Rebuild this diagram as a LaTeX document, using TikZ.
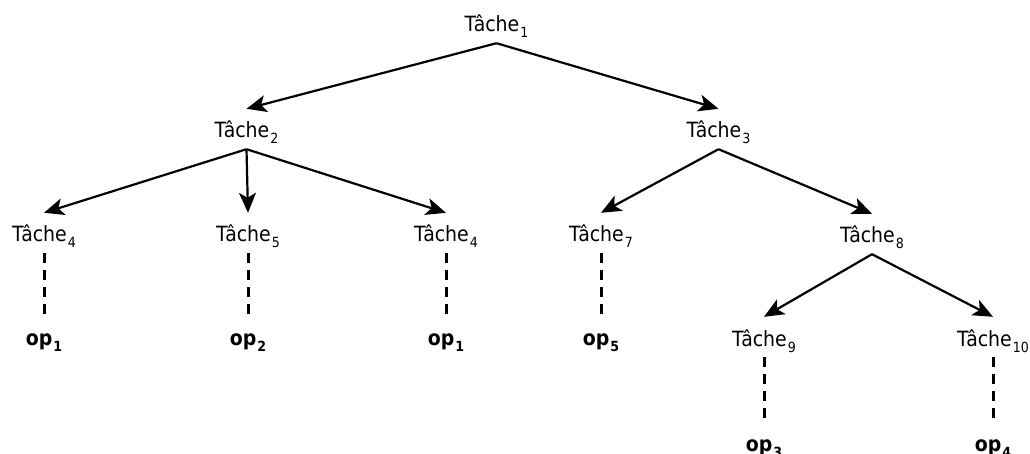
\documentclass[tikz,border=0pt]{standalone}
\usepackage{fontspec}
\setmainfont{DejaVu Sans Condensed}
\usetikzlibrary{arrows.meta}
\newcommand\sbs[1]{\kern1pt\raisebox{-6pt}{\fontsize{14}{14}\selectfont #1}}
\newcommand\tache[1]{Tâche\sbs{#1}}
\newcommand\opn[1]{op\sbs{#1}}
\begin{document}
\begin{tikzpicture}[x=1pt,y=-1pt,
 lbl/.style={anchor=base, inner sep=0pt, font=\fontsize{21}{25}\selectfont, text height=29pt, text depth=11pt},
 oplbl/.style={anchor=base, inner sep=0pt, font=\fontsize{21}{25}\selectfont\bfseries, text height=31pt, text depth=2pt},
 arr/.style={-{Stealth[length=20pt,width=17pt,inset=5pt]}, line width=2.2pt},
 dsh/.style={line width=3pt, dash pattern=on 10pt off 7pt}]
\useasboundingbox (0,0) rectangle (1030,454);
% tasks
\node[lbl] (t1) at (496.5,32) {\tache{1}};
\node[lbl] (t2) at (246.5,138) {\tache{2}};
\node[lbl] (t3) at (718.5,138) {\tache{3}};
\node[lbl] (t4) at (44,242) {\tache{4}};
\node[lbl] (t5) at (248,242) {\tache{5}};
\node[lbl] (t4b) at (446,242) {\tache{4}};
\node[lbl] (t7) at (601,242) {\tache{7}};
\node[lbl] (t8) at (872,243) {\tache{8}};
\node[lbl] (t9) at (764,346) {\tache{9}};
\node[lbl] (t10) at (993,346) {\tache{10}};
% operations
\node[oplbl] (o1) at (44,345) {\opn{1}};
\node[oplbl] (o2) at (248,345) {\opn{2}};
\node[oplbl] (o1b) at (446,345) {\opn{1}};
\node[oplbl] (o5) at (601,345) {\opn{5}};
\node[oplbl, text height=28pt] (o3) at (764,451) {\opn{3}};
\node[oplbl, text height=28pt] (o4) at (993,451) {\opn{4}};
% arrows
\draw[arr] (t1.south) -- (t2.north);
\draw[arr] (t1.south) -- (t3.north);
\draw[arr] (t2.south) -- (t4.north);
\draw[arr] (t2.south) -- (t5.north);
\draw[arr] (t2.south) -- (t4b.north);
\draw[arr] (t3.south) -- (t7.north);
\draw[arr] (t3.south) -- (t8.north);
\draw[arr] (t8.south) -- (t9.north);
\draw[arr] (t8.south) -- (t10.north);
% dashed links
\draw[dsh] (t4.south) -- (o1.north);
\draw[dsh] (t5.south) -- (o2.north);
\draw[dsh] (t4b.south) -- (o1b.north);
\draw[dsh] (t7.south) -- (o5.north);
\draw[dsh] (t9.south) -- (o3.north);
\draw[dsh] (t10.south) -- (o4.north);
\end{tikzpicture}
\end{document}
